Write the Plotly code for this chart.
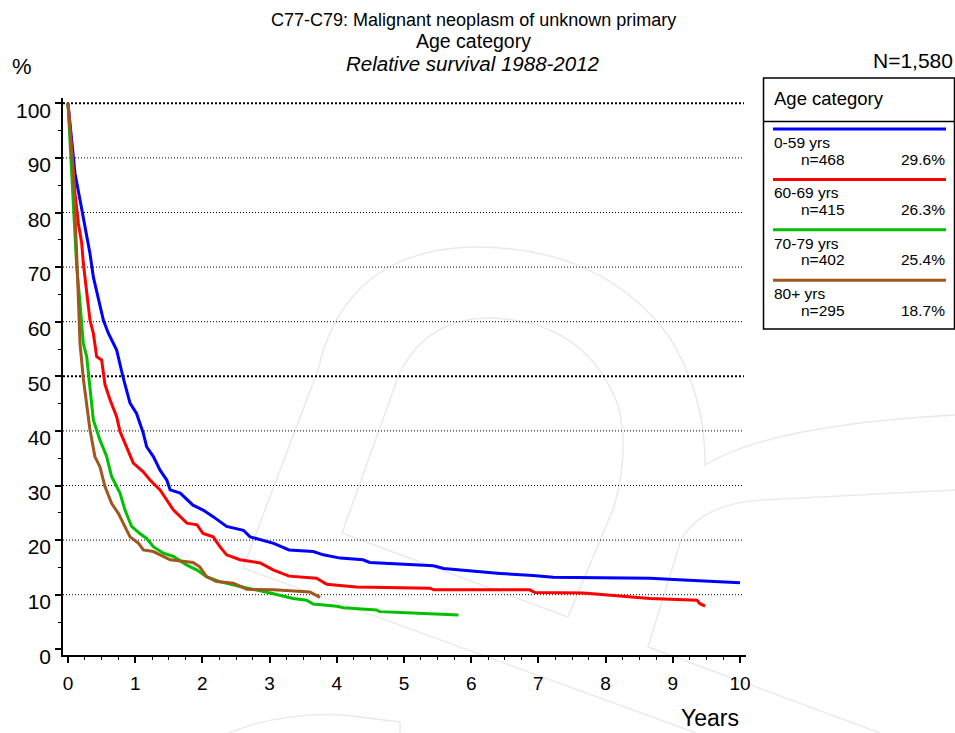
import plotly.graph_objects as go

# ---------------- data ----------------
title_lines = ["C77-C79: Malignant neoplasm of unknown primary",
               "Age category",
               "Relative survival 1988-2012"]
legend_title = "Age category"
groups = ["0-59 yrs", "60-69 yrs", "70-79 yrs", "80+ yrs"]
group_n = [468, 415, 402, 295]
group_pct = ["29.6%", "26.3%", "25.4%", "18.7%"]
total_n = "N=1,580"
colors = ["#0000ff", "#ff0000", "#00c000", "#a0561e"]

x_ticks = list(range(0, 11))
y_ticks = list(range(0, 101, 10))
grid_y = list(range(10, 101, 10))
bold_grid = [50, 100]

age0_59_x = [0, 0.104, 0.179, 0.253, 0.327, 0.377, 0.45, 0.526, 0.6, 0.724, 0.824, 0.923,
             1.02, 1.12, 1.17, 1.27, 1.37, 1.47, 1.52, 1.67, 1.86, 2.01, 2.16, 2.36, 2.61,
             2.71, 3.06, 3.29, 3.65, 3.80, 4.05, 4.39, 4.49, 5.04, 5.44, 5.59, 5.93, 6.43,
             6.92, 7.22, 7.92, 8.66, 9.16, 10.0]
age0_59_y = [100, 87.2, 82.3, 77.4, 72.5, 68.2, 64.6, 60.3, 57.9, 54.8, 49.6, 45.1,
             43.2, 39.6, 37.1, 35.3, 32.8, 31.0, 29.2, 28.6, 26.4, 25.5, 24.3, 22.5, 21.8,
             20.6, 19.4, 18.2, 17.9, 17.3, 16.7, 16.4, 15.9, 15.5, 15.3, 14.8, 14.4, 13.9,
             13.5, 13.2, 13.1, 13.0, 12.7, 12.2]

age60_69_x = [0, 0.104, 0.154, 0.204, 0.228, 0.278, 0.327, 0.377, 0.427, 0.5, 0.55, 0.625,
              0.724, 0.774, 0.873, 0.972, 1.12, 1.22, 1.37, 1.47, 1.57, 1.77, 1.92, 2.01,
              2.16, 2.26, 2.36, 2.56, 2.86, 3.06, 3.29, 3.70, 3.85, 4.29, 5.39, 5.44, 6.87,
              6.95, 7.67, 8.66, 9.36, 9.40, 9.48]
age60_69_y = [100, 83.5, 78.0, 74.4, 70.7, 65.8, 60.3, 57.9, 53.6, 53.0, 48.5, 45.7,
              42.6, 39.9, 37.1, 34.1, 32.5, 31.0, 29.2, 27.3, 25.5, 23.1, 22.8, 21.2,
              20.6, 18.8, 17.3, 16.4, 15.8, 14.5, 13.4, 13.0, 11.9, 11.4, 11.2, 10.9, 10.9,
              10.4, 10.3, 9.3, 9.0, 8.4, 7.9]

age70_79_x = [0, 0.06, 0.129, 0.179, 0.228, 0.278, 0.327, 0.377, 0.476, 0.575, 0.65, 0.774,
              0.848, 0.947, 1.07, 1.17, 1.27, 1.42, 1.57, 1.77, 1.92, 2.06, 2.26, 2.56,
              3.01, 3.35, 3.55, 3.65, 4.0, 4.10, 4.59, 4.64, 5.04, 5.54, 5.81]
age70_79_y = [100, 85.0, 70.1, 63.4, 56.0, 53.6, 48.1, 42.0, 38.3, 35.3, 31.6, 28.6,
              25.5, 22.5, 21.2, 20.3, 18.8, 17.6, 17.0, 15.4, 14.5, 13.3, 12.4, 11.5,
              10.3, 9.3, 9.0, 8.3, 7.9, 7.6, 7.2, 6.9, 6.7, 6.4, 6.3]

age80_x = [0, 0.079, 0.129, 0.179, 0.228, 0.327, 0.40, 0.476, 0.55, 0.65, 0.749, 0.848,
           0.923, 1.05, 1.12, 1.27, 1.52, 1.86, 1.96, 2.06, 2.21, 2.46, 2.66, 3.06, 3.60, 3.75]
age80_y = [100, 87.2, 72.5, 56.0, 49.6, 40.2, 35.3, 33.4, 29.8, 26.7, 24.9, 22.5,
           20.6, 19.4, 18.2, 17.9, 16.4, 15.9, 15.1, 13.3, 12.4, 12.1, 11.0, 10.9, 10.5, 9.5]

series_x = [age0_59_x, age60_69_x, age70_79_x, age80_x]
series_y = [age0_59_y, age60_69_y, age70_79_y, age80_y]

# ---------------- layout geometry ----------------
W, H = 955, 733
ML, MR, MT, MB = 63, 209, 98, 78
PW = W - ML - MR
PH = H - MT - MB


def px(x):
    return (x - ML) / PW


def py(y):
    return (H - MB - y) / PH


FONT = "Liberation Sans, Arial, Helvetica, sans-serif"

fig = go.Figure()
for xs, ys, c, g in zip(series_x, series_y, colors, groups):
    fig.add_trace(go.Scatter(x=xs, y=ys, mode="lines", name=g,
                             line=dict(color=c, width=3), showlegend=False,
                             hoverinfo="skip"))

shapes = []
# faint watermark (decoration)
wm_paths = [
    [("M", 243, 568), ("L", 318, 370), ("Q", 345, 252, 470, 247), ("Q", 600, 245, 668, 335),
     ("Q", 706, 395, 705, 465), ("Q", 770, 425, 955, 415)],
    [("M", 342, 533), ("L", 400, 372), ("Q", 428, 318, 490, 318), ("Q", 585, 320, 618, 405),
     ("Q", 630, 450, 614, 507), ("L", 568, 617)],
    [("M", 243, 568), ("L", 696, 733)],
    [("M", 342, 533), ("L", 568, 617)],
    [("M", 648, 647), ("L", 681, 540), ("Q", 700, 505, 760, 500), ("L", 955, 490)],
    [("M", 648, 647), ("L", 880, 733)],
    [("M", 229, 733), ("Q", 280, 712, 344, 715), ("L", 400, 722), ("L", 400, 733)],
]
for p in wm_paths:
    s = ""
    for seg in p:
        cmd = seg[0]
        nums = seg[1:]
        pts = []
        for i in range(0, len(nums), 2):
            pts.append(f"{px(nums[i]):.4f},{py(nums[i+1]):.4f}")
        s += cmd + " " + " ".join(pts) + " "
    shapes.append(dict(type="path", path=s.strip(), xref="paper", yref="paper",
                       line=dict(color="rgb(234,234,234)", width=1.5), layer="below"))

# dotted grid lines
for g in grid_y:
    bold = g in bold_grid
    shapes.append(dict(type="line", xref="paper", yref="y", x0=0, x1=0.997, y0=g, y1=g,
                       line=dict(color="black", width=2 if bold else 1,
                                 dash="2px,2px" if bold else "1px,2px"),
                       layer="below"))

# legend box
LX0, LX1, LY0, LY1 = 763.5, 954.5, 78, 329
shapes.append(dict(type="rect", xref="paper", yref="paper", x0=px(LX0), x1=px(LX1),
                   y0=py(LY1), y1=py(LY0), line=dict(color="black", width=1.5),
                   fillcolor="white", layer="below"))
shapes.append(dict(type="line", xref="paper", yref="paper", x0=px(LX0), x1=px(LX1),
                   y0=py(121.5), y1=py(121.5), line=dict(color="black", width=1.5)))

annotations = []
legend_step = 50.4
for i, (g, n, pc, c) in enumerate(zip(groups, group_n, group_pct, colors)):
    ly = 129 + legend_step * i
    shapes.append(dict(type="line", xref="paper", yref="paper", x0=px(773), x1=px(946),
                       y0=py(ly), y1=py(ly), line=dict(color=c, width=3)))
    annotations.append(dict(text=g, x=px(772), y=py(ly + 13.5), xref="paper", yref="paper",
                            xanchor="left", yanchor="middle", showarrow=False,
                            font=dict(size=15.5, family=FONT, color="black")))
    annotations.append(dict(text=f"n={n}", x=px(847), y=py(ly + 30), xref="paper",
                            yref="paper", xanchor="right", yanchor="middle", showarrow=False,
                            font=dict(size=15.5, family=FONT, color="black")))
    annotations.append(dict(text=pc, x=px(947), y=py(ly + 30), xref="paper", yref="paper",
                            xanchor="right", yanchor="middle", showarrow=False,
                            font=dict(size=15.5, family=FONT, color="black")))

annotations.append(dict(text=legend_title, x=px(772), y=py(99), xref="paper", yref="paper",
                        xanchor="left", yanchor="middle", showarrow=False,
                        font=dict(size=18.5, family=FONT, color="black")))

# titles
title_y = [20, 41, 63]
title_sizes = [18, 19.5, 20.5]
for i, (t, ty, ts) in enumerate(zip(title_lines, title_y, title_sizes)):
    txt = f"<i>{t}</i>" if i == 2 else t
    annotations.append(dict(text=txt, x=px(473), y=py(ty), xref="paper", yref="paper",
                            xanchor="center", yanchor="middle", showarrow=False,
                            font=dict(size=ts, family=FONT, color="black")))

annotations.append(dict(text="%", x=px(22), y=py(66), xref="paper", yref="paper",
                        xanchor="center", yanchor="middle", showarrow=False,
                        font=dict(size=22, family=FONT, color="black")))
annotations.append(dict(text=total_n, x=px(955), y=py(61), xref="paper", yref="paper",
                        xanchor="right", yanchor="middle", showarrow=False,
                        font=dict(size=21, family=FONT, color="black")))
annotations.append(dict(text="Years", x=px(741), y=py(718), xref="paper", yref="paper",
                        xanchor="right", yanchor="middle", showarrow=False,
                        font=dict(size=23, family=FONT, color="black")))

x_min = -(68 - ML) / 67.2
x_max = (ML + PW - 68) / 67.2
y_min = -(655 - 649.3) / 5.46
y_max = (649.3 - MT) / 5.46

fig.update_layout(
    width=W, height=H,
    margin=dict(l=ML, r=MR, t=MT, b=MB, pad=0),
    paper_bgcolor="white", plot_bgcolor="rgba(0,0,0,0)",
    shapes=shapes, annotations=annotations,
    font=dict(family=FONT, color="black"),
    xaxis=dict(range=[x_min, x_max], tickvals=x_ticks, ticktext=[str(v) for v in x_ticks],
               showgrid=False, zeroline=False, showline=True, linecolor="black",
               linewidth=1.5, ticks="outside", ticklen=6, tickwidth=1.5, tickcolor="black",
               tickfont=dict(size=19, family=FONT, color="black"), ticklabelstandoff=4,
               minor=dict(dtick=0.25, tick0=0, ticks="outside", ticklen=3, tickwidth=1.2,
                          tickcolor="black", showgrid=False),
               fixedrange=True),
    yaxis=dict(range=[y_min, y_max], tickvals=y_ticks, ticktext=[str(v) for v in y_ticks],
               showgrid=False, zeroline=False, showline=True, linecolor="black",
               linewidth=1.5, ticks="outside", ticklen=6, tickwidth=1.5, tickcolor="black",
               tickfont=dict(size=21, family=FONT, color="black"), ticklabelstandoff=0,
               ticklabelshift=7,
               minor=dict(dtick=5, tick0=0, ticks="outside", ticklen=3, tickwidth=1.2,
                          tickcolor="black", showgrid=False),
               fixedrange=True),
)

fig.write_html("out.html", config={"displayModeBar": False},
               post_script="document.body.style.margin='0';document.body.style.overflow='hidden';")
